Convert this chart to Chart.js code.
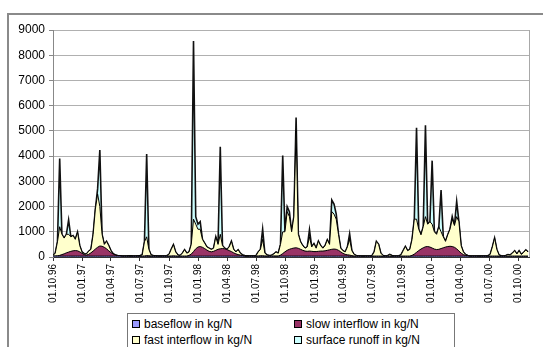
<!DOCTYPE html>
<html>
<head>
<meta charset="utf-8">
<script src="https://cdn.jsdelivr.net/npm/chart.js@4.4.1/dist/chart.umd.min.js"></script>
<style>
  html, body { margin: 0; padding: 0; background: #fff; overflow: hidden; }
  #wrap { position: relative; width: 543px; height: 347px; }
  #frame { position: absolute; left: 7px; top: 13px; width: 560px; height: 360px; border: 2px solid #8a8a8a; }
  #box { position: absolute; left: 0; top: 0; width: 543px; height: 347px; }
  #legend {
    position: absolute; left: 127px; top: 313px; width: 326px; height: 50px;
    border: 1px solid #777; background: #fff;
    font-family: 'Liberation Sans', Arial, sans-serif; font-size: 12px; color: #000;
  }
  #legend .item { position: absolute; height: 14px; line-height: 14px; white-space: nowrap; }
  #legend .sw { display: inline-block; width: 6px; height: 6px; border: 1px solid #000; margin-right: 4px; vertical-align: 0px; }
</style>
</head>
<body>
<div id="wrap">
  <div id="frame"></div>
  <div id="box"><canvas id="chart"></canvas></div>
  <div id="legend"></div>
</div>
<script>
// one value per week, starting 01.10.1996
const startDate = '01.10.96';
const stepDays = 7;
const lastDay = 1494;

const tickLabels = ['01.10.96', '01.01.97', '01.04.97', '01.07.97', '01.10.97', '01.01.98', '01.04.98', '01.07.98', '01.10.98',
  '01.01.99', '01.04.99', '01.07.99', '01.10.99', '01.01.00', '01.04.00', '01.07.00', '01.10.00'];

const seriesNames = ['baseflow in kg/N', 'slow interflow in kg/N', 'fast interflow in kg/N', 'surface runoff in kg/N'];
const seriesColors = ['#9999ff', '#993366', '#ffffcc', '#ccffff'];

const baseflow = [
  35, 35, 35, 35, 35, 35, 35, 35, 35, 35,
  35, 35, 35, 35, 35, 35, 35, 35, 35, 35,
  35, 35, 35, 35, 35, 35, 35, 35, 35, 35,
  35, 25, 25, 25, 25, 25, 25, 25, 25, 25,
  25, 25, 25, 25, 25, 25, 25, 25, 25, 25,
  25, 25, 25, 25, 25, 25, 25, 25, 25, 25,
  25, 35, 35, 35, 35, 35, 35, 35, 35, 35,
  35, 35, 35, 35, 35, 35, 35, 35, 35, 35,
  35, 35, 35, 35, 35, 35, 25, 25, 25, 25,
  25, 25, 25, 25, 25, 25, 25, 25, 25, 25,
  25, 25, 35, 35, 35, 35, 35, 35, 35, 35,
  35, 35, 35, 35, 35, 35, 35, 35, 35, 35,
  35, 35, 35, 35, 35, 35, 35, 35, 35, 35,
  35, 35, 35, 25, 25, 25, 25, 25, 25, 25,
  25, 25, 25, 25, 25, 25, 25, 25, 25, 25,
  25, 25, 25, 25, 25, 25, 25, 25, 25, 25,
  25, 35, 35, 35, 35, 35, 35, 35, 35, 35,
  35, 35, 35, 35, 35, 35, 35, 35, 35, 35,
  35, 35, 35, 35, 35, 35, 35, 25, 25, 25,
  25, 25, 25, 25, 25, 25, 25, 25, 25, 25,
  25, 25, 25, 25, 25, 25, 25, 25, 25, 25,
  25, 25, 25, 25
];

const slowInterflow = [
  0, 5, 10, 30, 60, 90, 130, 160, 190, 210,
  220, 210, 170, 110, 60, 40, 70, 130, 200, 280,
  350, 400, 390, 350, 290, 210, 140, 80, 40, 20,
  10, 10, 10, 10, 10, 10, 10, 10, 10, 10,
  10, 15, 30, 25, 15, 10, 10, 10, 10, 10,
  10, 10, 10, 15, 20, 15, 10, 10, 10, 10,
  10, 30, 80, 180, 290, 360, 380, 350, 300, 240,
  190, 170, 190, 230, 270, 290, 300, 290, 260, 220,
  180, 130, 90, 60, 40, 25, 15, 15, 15, 15,
  15, 15, 15, 25, 25, 15, 15, 15, 15, 15,
  15, 15, 40, 100, 170, 230, 270, 300, 320, 330,
  310, 270, 230, 200, 190, 200, 190, 180, 180, 190,
  200, 200, 210, 230, 250, 270, 280, 270, 230, 170,
  110, 70, 50, 50, 30, 10, 10, 10, 10, 10,
  10, 10, 10, 10, 10, 10, 10, 10, 10, 10,
  10, 10, 10, 10, 10, 10, 10, 10, 10, 10,
  10, 30, 80, 150, 220, 280, 330, 370, 380, 360,
  320, 280, 260, 270, 300, 330, 360, 380, 390, 380,
  350, 290, 200, 120, 60, 30, 10, 10, 10, 10,
  10, 10, 10, 10, 10, 10, 10, 10, 10, 10,
  10, 10, 10, 10, 10, 10, 10, 10, 10, 10,
  10, 10, 10, 10
];

const fastInterflow = [
  25, 110, 555, 1135, 805, 625, 735, 705, 575, 605,
  445, 735, 245, 55, 35, 45, 125, 135, 665, 1585,
  2115, 1565, 475, 115, 295, 205, 75, 15, 5, 5,
  5, 5, 5, 5, 15, 15, 5, 5, 15, 25,
  45, 560, 745, 250, 40, 25, 15, 5, 5, 5,
  5, 15, 65, 260, 445, 160, 45, 25, 115, 255,
  115, 135, 385, 1285, 975, 705, 685, 315, 215, 125,
  125, 95, 125, 535, 195, 575, 115, 25, 5, 145,
  405, 135, 75, 195, 75, 20, 20, 10, 0, 0,
  0, 10, 160, 250, 650, 110, 40, 20, 30, 80,
  160, 110, 425, 865, 795, 1535, 1295, 665, 1245, 4635,
  555, 295, 185, 115, 175, 565, 175, 315, 135, 405,
  215, 115, 205, 415, 215, 1495, 1385, 1195, 635, 145,
  105, 95, 315, 625, 195, 65, 25, 15, 5, 5,
  5, 5, 5, 15, 165, 585, 465, 115, 25, 5,
  15, 65, 25, 5, 5, 15, 45, 215, 385, 215,
  265, 635, 1385, 1315, 845, 565, 835, 1195, 885, 1005,
  945, 685, 605, 895, 665, 435, 225, 465, 675, 1085,
  865, 1275, 1165, 295, 105, 35, 15, 5, 5, 5,
  5, 5, 5, 5, 5, 15, 65, 365, 715, 265,
  45, 15, 5, 25, 65, 45, 115, 215, 85, 215,
  65, 145, 245, 165
];

const surfaceRunoff = [
  0, 0, 0, 2700, 0, 0, 0, 570, 0, 0,
  0, 0, 0, 0, 0, 0, 0, 0, 0, 0,
  200, 2240, 0, 0, 0, 0, 0, 0, 0, 0,
  0, 0, 0, 0, 0, 0, 0, 0, 0, 0,
  0, 0, 3280, 0, 0, 0, 0, 0, 0, 0,
  0, 0, 0, 0, 0, 0, 0, 0, 0, 0,
  0, 0, 0, 7060, 300, 200, 300, 0, 0, 0,
  0, 0, 0, 0, 0, 3470, 0, 0, 0, 0,
  0, 0, 0, 0, 0, 0, 0, 0, 0, 0,
  0, 0, 0, 0, 400, 0, 0, 0, 0, 0,
  0, 0, 0, 3020, 0, 200, 200, 0, 0, 530,
  0, 0, 0, 0, 0, 280, 0, 0, 0, 0,
  0, 0, 0, 0, 0, 460, 400, 200, 0, 0,
  0, 0, 0, 220, 0, 0, 0, 0, 0, 0,
  0, 0, 0, 0, 0, 0, 0, 0, 0, 0,
  0, 0, 0, 0, 0, 0, 0, 0, 0, 0,
  0, 0, 0, 3620, 0, 0, 0, 3620, 0, 0,
  2520, 0, 0, 0, 1650, 0, 0, 0, 0, 100,
  0, 600, 0, 0, 0, 0, 0, 0, 0, 0,
  0, 0, 0, 0, 0, 0, 0, 0, 0, 0,
  0, 0, 0, 0, 0, 0, 0, 0, 0, 0,
  0, 0, 0, 0
];

const series = [baseflow, slowInterflow, fastInterflow, surfaceRunoff];

function toUTC(s) {
  const [d, m, y] = s.split('.').map(Number);
  return Date.UTC(y < 50 ? 2000 + y : 1900 + y, m - 1, d);
}
const dayMs = 86400000;
const t0 = toUTC(startDate);
const tickDays = tickLabels.map((l) => Math.round((toUTC(l) - t0) / dayMs));

const font = "'Liberation Sans', Arial, sans-serif";

const plotBorder = {
  id: 'plotBorder',
  beforeDatasetsDraw(chart) {
    const { ctx, chartArea: a } = chart;
    ctx.save();
    ctx.strokeStyle = '#a8a8a8';
    ctx.lineWidth = 1;
    ctx.beginPath();
    ctx.moveTo(Math.round(a.right) + 0.5, a.top);
    ctx.lineTo(Math.round(a.right) + 0.5, a.bottom);
    ctx.stroke();
    ctx.restore();
  }
};

new Chart(document.getElementById('chart'), {
  type: 'line',
  data: {
    datasets: series.map((vals, k) => ({
      label: seriesNames[k],
      data: vals.map((v, i) => ({ x: i * stepDays, y: v })),
      backgroundColor: seriesColors[k],
      borderColor: k === 3 ? '#111' : '#000',
      borderWidth: k === 3 ? 1.6 : 1,
      pointRadius: 0,
      tension: 0,
      fill: k === 0 ? 'origin' : '-1'
    }))
  },
  options: {
    responsive: true,
    maintainAspectRatio: false,
    animation: false,
    layout: { padding: { left: 0, right: 14, top: 30, bottom: 40 } },
    plugins: { legend: { display: false }, tooltip: { enabled: false } },
    scales: {
      x: {
        type: 'linear',
        min: 0,
        max: lastDay,
        afterFit: (s) => { s.height = 50; },
        afterBuildTicks: (s) => { s.ticks = tickDays.map((v) => ({ value: v })); },
        border: { color: '#333', width: 1 },
        grid: { drawOnChartArea: false, drawTicks: true, tickLength: 4, color: '#333' },
        ticks: {
          autoSkip: false,
          minRotation: 90,
          maxRotation: 90,
          padding: 3,
          color: '#000',
          font: { family: font, size: 10 },
          callback: (v, i) => tickLabels[i]
        }
      },
      y: {
        stacked: true,
        min: 0,
        max: 9000,
        afterFit: (s) => { s.width = 53; },
        border: { color: '#888', width: 1 },
        grid: { color: '#b0b0b0', tickLength: 4, tickColor: '#888' },
        ticks: { stepSize: 1000, padding: 4, color: '#000', font: { family: font, size: 12 }, callback: (v) => String(v) }
      }
    }
  },
  plugins: [plotBorder]
});

// legend in two columns, as in the original sheet
const legendPos = [[4, 3], [166, 3], [4, 19], [166, 19]];
const legend = document.getElementById('legend');
seriesNames.forEach((name, k) => {
  const item = document.createElement('div');
  item.className = 'item';
  item.style.left = legendPos[k][0] + 'px';
  item.style.top = legendPos[k][1] + 'px';
  item.innerHTML = `<span class="sw" style="background:${seriesColors[k]}"></span>${name}`;
  legend.appendChild(item);
});
</script>
</body>
</html>
